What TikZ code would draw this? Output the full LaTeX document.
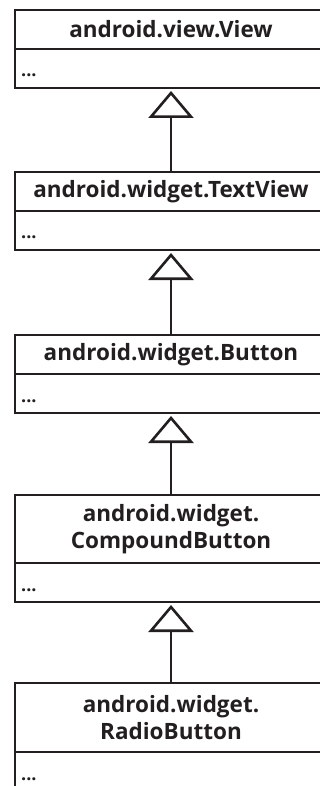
\documentclass[tikz,border=0pt]{standalone}
\usepackage{fontspec}
\setmainfont{Open Sans}
\usetikzlibrary{arrows.meta}
\definecolor{ink}{HTML}{231F20}
\begin{document}
\begin{tikzpicture}[x=1pt,y=1pt,
  hdr/.style={draw=ink, line width=2.6pt, minimum width=312pt, inner sep=0pt, outer sep=0pt,
    align=center, font=\fontsize{22.5}{27}\selectfont\bfseries, text=ink, anchor=north},
  attr/.style={draw=ink, line width=2.6pt, minimum width=312pt, minimum height=39pt,
    inner sep=0pt, outer sep=0pt, anchor=north},
  dots/.style={font=\fontsize{18}{18}\selectfont\bfseries, text=ink, anchor=base west, inner sep=0pt},
  inh/.style={draw=ink, line width=2.6pt, -{Triangle[open, length=27pt, width=45pt]}, shorten >=3pt}]
\useasboundingbox (0,0) rectangle (320,-786);
\clip (0,0) rectangle (320,-786);

\node[hdr, minimum height=39pt] (h1) at (171,-10) {android.view.View};
\node[attr] (a1) at (h1.south) {};
\node[dots] (d1) at ([xshift=6pt,yshift=-28pt]a1.north west) {...};

\node[hdr, minimum height=39pt] (h2) at (171,-172) {android.widget.TextView};
\node[attr] (a2) at (h2.south) {};
\node[dots] (d2) at ([xshift=6pt,yshift=-28pt]a2.north west) {...};

\node[hdr, minimum height=39pt] (h3) at (171,-335) {android.widget.Button};
\node[attr] (a3) at (h3.south) {};
\node[dots] (d3) at ([xshift=6pt,yshift=-28pt]a3.north west) {...};

\node[hdr, minimum height=68pt] (h4) at (171,-495) {android.widget.\\CompoundButton};
\node[attr] (a4) at (h4.south) {};
\node[dots] (d4) at ([xshift=6pt,yshift=-28pt]a4.north west) {...};

\node[hdr, minimum height=69pt] (h5) at (171,-683) {android.widget.\\RadioButton};
\node[attr] (a5) at (h5.south) {};
\node[dots] (d5) at ([xshift=6pt,yshift=-28pt]a5.north west) {...};

\draw[inh] (h2.north) -- (a1.south);
\draw[inh] (h3.north) -- (a2.south);
\draw[inh] (h4.north) -- (a3.south);
\draw[inh] (h5.north) -- (a4.south);
\end{tikzpicture}
\end{document}
